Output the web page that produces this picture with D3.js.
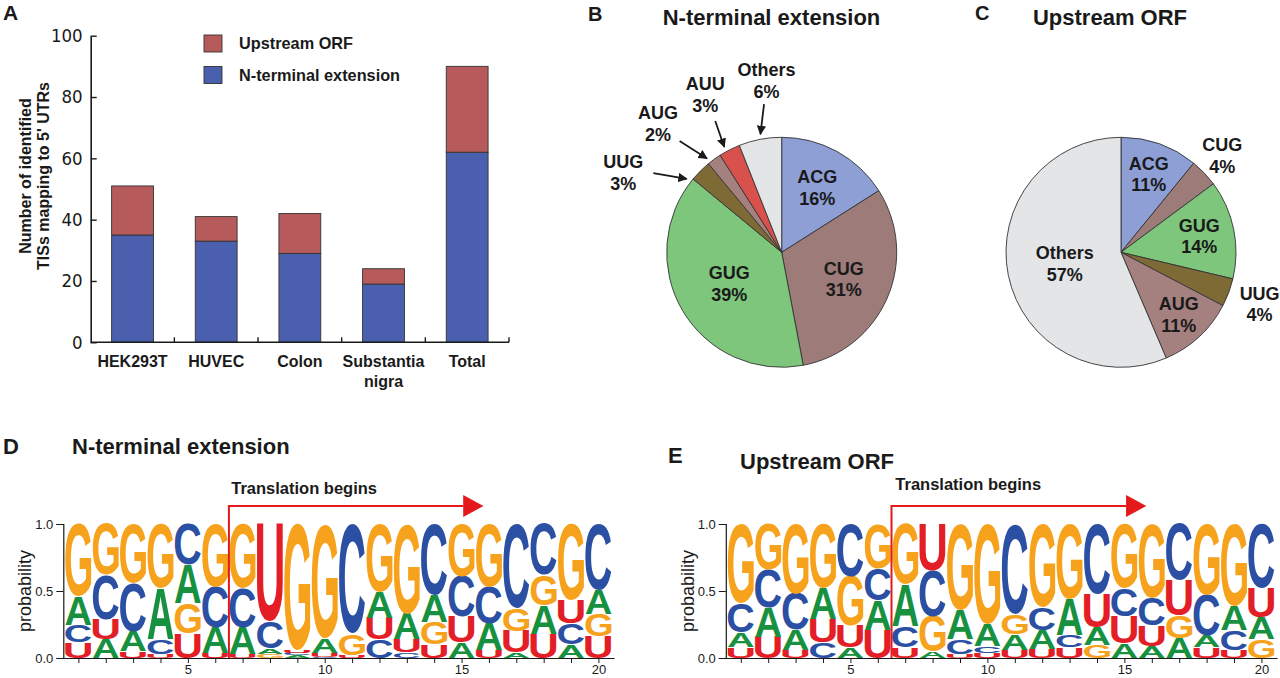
<!DOCTYPE html>
<html>
<head>
<meta charset="utf-8">
<script src="https://cdn.jsdelivr.net/npm/d3@7"></script>
<style>
  body { margin: 0; background: #fff; }
  svg { display: block; font-family: "Liberation Sans", Arial, Helvetica, sans-serif; }
</style>
</head>
<body>
<svg id="fig" width="1280" height="678"></svg>
<script>
// ---------- panel A : TIS counts per sample ----------
const samples = ["HEK293T", "HUVEC", "Colon", "Substantia\nnigra", "Total"];
const ntermCounts = [35, 33, 29, 19, 62];
const uorfCounts = [16, 8, 13, 5, 28];
const countTicks = [0, 20, 40, 60, 80, 100];

// ---------- panels B / C : start codon shares (%) ----------
const ntermCodons = ["ACG", "CUG", "GUG", "UUG", "AUG", "AUU", "Others"];
const ntermShare = [16, 31, 39, 3, 2, 3, 6];
const uorfCodons = ["ACG", "CUG", "GUG", "UUG", "AUG", "Others"];
const uorfShare = [11, 4, 14, 4, 11, 57];

// ---------- panels D / E : per-position base probabilities (positions 1..20) ----------
const bases = ["A", "C", "G", "U"];
const ntA = [.21,.14,.15,.38,.29,.19,.20,.04,.02,.11,.00,.19,.19,.20,.12,.20,.04,.21,.10,.18];
const ntC = [.13,.33,.36,.11,.30,.30,.29,.20,.02,.01,.82,.14,.04,.53,.30,.27,.63,.38,.16,.49];
const ntG = [.54,.38,.44,.48,.23,.47,.48,.03,.94,.85,.16,.51,.67,.17,.39,.47,.17,.23,.57,.17];
const ntU = [.12,.15,.05,.03,.18,.04,.03,.73,.02,.03,.02,.16,.10,.10,.19,.06,.16,.18,.17,.16];
const upA = [.11,.22,.15,.23,.08,.22,.31,.05,.22,.16,.12,.14,.27,.13,.11,.09,.15,.09,.18,.16];
const upC = [.22,.28,.27,.12,.39,.24,.16,.34,.11,.05,.67,.17,.09,.52,.21,.21,.42,.30,.15,.48];
const upG = [.59,.34,.52,.48,.37,.33,.45,.26,.64,.75,.15,.62,.56,.10,.48,.55,.17,.53,.61,.14];
const upU = [.08,.16,.06,.17,.16,.21,.08,.35,.03,.04,.06,.07,.08,.25,.20,.15,.26,.08,.06,.22];
const startSite = 6.5;           // translation start boundary (between pos 6 and 7)
const arrowReach = [15.06, 15.8]; // arrow shaft end, arrow tip (in positions)

const svg = d3.select("#fig");
const NARROW = '"Liberation Sans Narrow", "Arial Narrow", "DejaVu Sans Condensed", sans-serif';
const ink = "#1a1a1a";

const colUorf = "#b65a5b", colNterm = "#4a5fad";
const codonColor = {
  ACG: "#8e9fd6", CUG: "#9d7b79", GUG: "#7dc67b", UUG: "#7e6a35",
  AUG: "#a4807f", AUU: "#d9514c", Others: "#e4e5e7"
};
const baseColor = { A: "#17913f", C: "#2b4fa2", G: "#f6a21c", U: "#e31e26" };

function label(x, y, txt, size, weight, anchor) {
  return svg.append("text").attr("x", x).attr("y", y).text(txt)
    .attr("font-size", size).attr("font-weight", weight || "bold")
    .attr("text-anchor", anchor || "start").attr("fill", ink);
}

// ================= A =================
label(3, 20, "A", 21);
const xA = d3.scaleBand().domain(samples).range([90.7, 509]).paddingInner(0.5).paddingOuter(0.25);
const yA = d3.scaleLinear().domain([0, 100]).range([342.3, 35.7]);

const gA = svg.append("g");
const stacks = samples.map((s, i) => ({ s, n: ntermCounts[i], u: uorfCounts[i] }));
gA.selectAll("rect.nt").data(stacks).join("rect")
  .attr("x", d => xA(d.s)).attr("width", xA.bandwidth())
  .attr("y", d => yA(d.n)).attr("height", d => yA(0) - yA(d.n))
  .attr("fill", colNterm).attr("stroke", "#333").attr("stroke-width", 0.9);
gA.selectAll("rect.uo").data(stacks).join("rect")
  .attr("x", d => xA(d.s)).attr("width", xA.bandwidth())
  .attr("y", d => yA(d.n + d.u)).attr("height", d => yA(d.n) - yA(d.n + d.u))
  .attr("fill", colUorf).attr("stroke", "#333").attr("stroke-width", 0.9);

const axA = gA.append("g").attr("transform", `translate(${xA.range()[0]},0)`)
  .call(d3.axisLeft(yA).tickValues(countTicks).tickSizeInner(-6).tickSizeOuter(0).tickPadding(8));
axA.select(".domain").attr("stroke", ink).attr("stroke-width", 1.6);
axA.selectAll(".tick line").attr("stroke", ink).attr("stroke-width", 1.4);
axA.selectAll(".tick text").attr("font-family", NARROW).attr("font-size", 18.5).attr("fill", ink);

const bounds = d3.range(samples.length + 1).map(k => xA.range()[0] + k * xA.step());
gA.append("line").attr("x1", xA.range()[0]).attr("x2", xA.range()[1])
  .attr("y1", yA(0)).attr("y2", yA(0)).attr("stroke", ink).attr("stroke-width", 1.6);
gA.selectAll("line.bt").data(bounds.slice(1)).join("line")
  .attr("x1", d => d).attr("x2", d => d).attr("y1", yA(0)).attr("y2", yA(0) - 5)
  .attr("stroke", ink).attr("stroke-width", 1.4);

samples.forEach(s => {
  s.split("\n").forEach((ln, j) => {
    label(xA(s) + xA.bandwidth() / 2, 366.7 + j * 20, ln, 16, "bold", "middle");
  });
});

const yTitle = ["Number of identified", "TISs mapping to 5' UTRs"];
yTitle.forEach((t, j) => {
  svg.append("text").attr("transform", `translate(${31 + j * 18},176) rotate(-90)`)
    .attr("text-anchor", "middle").attr("font-size", 16).attr("font-weight", "bold")
    .attr("fill", ink).text(t);
});

const legendA = [["Upstream ORF", colUorf], ["N-terminal extension", colNterm]];
legendA.forEach(([t, c], j) => {
  svg.append("rect").attr("x", 204).attr("y", 35 + j * 31.5).attr("width", 18).attr("height", 17)
    .attr("fill", c).attr("stroke", "#333").attr("stroke-width", 0.9);
  label(239, 48.5 + j * 32.2, t, 16.3);
});

// ================= B / C pies =================
const pie = d3.pie().sort(null).value(d => d);
const R = 115;
const arc = d3.arc().innerRadius(0).outerRadius(R);
const polar = (c, a, r) => [c[0] + r * Math.sin(a), c[1] - r * Math.cos(a)];
const deg = Math.PI / 180;

svg.append("defs").append("marker").attr("id", "ah").attr("viewBox", "0 0 10 10")
  .attr("refX", 9).attr("refY", 5).attr("markerWidth", 5.2).attr("markerHeight", 5.2)
  .attr("markerUnits", "strokeWidth").attr("orient", "auto")
  .append("path").attr("d", "M0,0 L10,5 L0,10 Z").attr("fill", ink);

function drawPie(center, codons, share, place) {
  const g = svg.append("g").attr("transform", `translate(${center})`);
  const arcs = pie(share);
  g.selectAll("path").data(arcs).join("path").attr("d", arc)
    .attr("fill", (d, i) => codonColor[codons[i]]).attr("stroke", "#333").attr("stroke-width", 0.9);
  arcs.forEach((d, i) => {
    const p = place[i];
    const mid = (d.startAngle + d.endAngle) / 2;
    let tx, ty;
    if (p.arrow) {
      const tip = polar(center, mid + p.arrow[0] * deg, R + 5);
      const tail = [tip[0] + p.arrow[1], tip[1] + p.arrow[2]];
      svg.append("line").attr("x1", tail[0]).attr("y1", tail[1]).attr("x2", tip[0]).attr("y2", tip[1])
        .attr("stroke", ink).attr("stroke-width", 1.8).attr("marker-end", "url(#ah)");
      tx = tail[0] + p.text[0]; ty = tail[1] + p.text[1];
    } else {
      const c = polar(center, mid, p.r);
      tx = c[0]; ty = c[1] - 4.5;
    }
    label(tx, ty, codons[i], 18, "bold", "middle");
    label(tx, ty + 21.7, share[i] + "%", 18, "bold", "middle");
  });
}

label(588, 21, "B", 20);
label(771.5, 25, "N-terminal extension", 22, "bold", "middle");
drawPie([781.7, 252.3], ntermCodons, ntermShare, [
  { r: 74 }, { r: 67.5 }, { r: 61 },
  { arrow: [-7.3, -33.4, -5.7], text: [-30, -5] },
  { arrow: [-2.5, -27.4, -17.4], text: [-21.6, -22] },
  { arrow: [-1.6, -9, -26], text: [-10, -30.7] },
  { arrow: [0.6, 3.6, -30], text: [2.4, -27.7] }
]);

label(975, 20, "C", 20);
label(1110, 25, "Upstream ORF", 22, "bold", "middle");
drawPie([1121, 252.3], uorfCodons, uorfShare, [
  { r: 83 }, { r: 140 }, { r: 80 }, { r: 148 }, { r: 85 }, { r: 57.5 }
]);

// ================= D / E logos =================
const ctx = document.createElement("canvas").getContext("2d");
ctx.font = 'bold 100px "Liberation Sans", Arial, sans-serif';
const glyph = {};
bases.forEach(b => {
  const m = ctx.measureText(b);
  glyph[b] = { l: m.actualBoundingBoxLeft, r: m.actualBoundingBoxRight,
               a: m.actualBoundingBoxAscent, d: m.actualBoundingBoxDescent };
});

function drawLogo(cols, xRange, axisX, textOffset, textBase) {
  const x = d3.scaleLinear().domain([0.5, 20.5]).range(xRange);
  const y = d3.scaleLinear().domain([0, 1]).range([658, 524]);
  const g = svg.append("g");
  const step = x(2) - x(1), w = step * 0.95;
  d3.range(20).forEach(i => {
    const stack = bases.map((b, k) => ({ b, p: cols[k][i] })).sort((a, c) => a.p - c.p);
    let cum = 0;
    stack.forEach(s => {
      const top = y(cum + s.p), bot = y(cum);
      cum += s.p;
      const h = bot - top;
      if (h < 0.4) return;
      const gl = glyph[s.b];
      const sx = w / (gl.l + gl.r), sy = h / (gl.a + gl.d);
      const x0 = x(i + 1) - w / 2;
      g.append("text").text(s.b).attr("font-size", 100).attr("font-weight", "bold")
        .attr("fill", baseColor[s.b])
        .attr("transform", `translate(${x0 + gl.l * sx},${top + gl.a * sy}) scale(${sx},${sy})`);
    });
  });

  const ax = svg.append("g").attr("transform", `translate(${axisX},0)`);
  ax.call(d3.axisLeft(y).tickValues(d3.range(0, 1.01, 0.1)).tickSize(4).tickFormat(""));
  ax.call(d3.axisLeft(y).tickValues([0, 0.5, 1]).tickSize(7).tickPadding(3).tickFormat(d3.format(".1f")));
  ax.selectAll(".domain").attr("stroke", ink).attr("stroke-width", 1.2);
  ax.selectAll(".tick line").attr("stroke", ink);
  ax.selectAll(".tick text").attr("font-size", 13).attr("fill", ink);

  const bx = svg.append("g").attr("transform", "translate(0,658)");
  bx.call(d3.axisBottom(x).tickValues(d3.range(1, 21)).tickSize(5).tickPadding(2)
    .tickFormat(d => d % 5 === 0 ? d : ""));
  bx.select(".domain").attr("d", `M${axisX},0.5H${x(20.5) + 2.5}`).attr("stroke", ink).attr("stroke-width", 1.2);
  bx.selectAll(".tick line").attr("stroke", ink);
  bx.selectAll(".tick text").attr("font-size", 13).attr("fill", ink);

  // translation start arrow
  const xs = x(startSite);
  svg.append("path").attr("d", `M${xs},658V506H${x(arrowReach[0])}`)
    .attr("fill", "none").attr("stroke", "#e3191c").attr("stroke-width", 2);
  svg.append("path").attr("d", `M${x(arrowReach[0])},495L${x(arrowReach[1])},506L${x(arrowReach[0])},517Z`)
    .attr("fill", "#e3191c");
  label(xs + textOffset, textBase, "Translation begins", 16.5);

  svg.append("text").attr("transform", `translate(${axisX - 32},591) rotate(-90)`)
    .attr("text-anchor", "middle").attr("font-size", 18).attr("fill", ink).text("probability");
}

label(3, 454, "D", 22);
label(72, 454, "N-terminal extension", 22);
drawLogo([ntA, ntC, ntG, ntU], [64.7, 612.1], 63.3, 2.3, 494);

label(668, 463, "E", 22);
label(740, 469, "Upstream ORF", 22);
drawLogo([upA, upC, upG, upU], [727.1, 1275.1], 725.8, 3.8, 490);
</script>
</body>
</html>
